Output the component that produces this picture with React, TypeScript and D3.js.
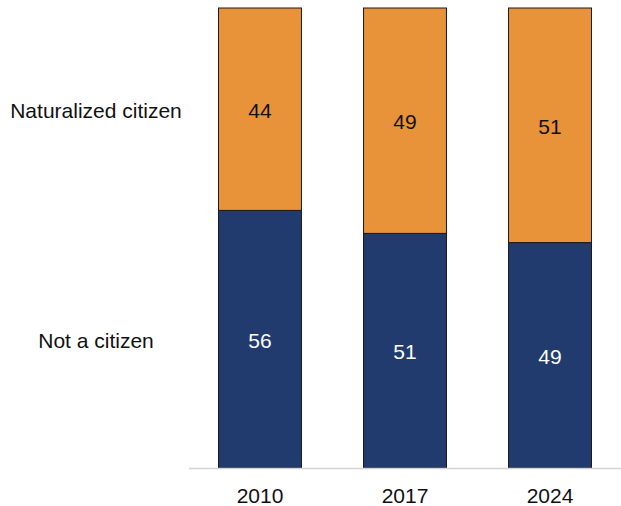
import React from "react";
import * as d3 from "d3";

const years = ["2010", "2017", "2024"];
const notCitizen = [56, 51, 49];
const naturalized = [44, 49, 51];
const seriesNames = ["Not a citizen", "Naturalized citizen"];
const colors = ["#213B6E", "#E8923A"];
const textColors = ["#ffffff", "#111111"];

export default function App() {
  const W = 621, H = 506;
  const top = 8, bottom = 468;
  const x = d3.scaleBand<string>().domain(years).range([189, 621]).paddingInner(0.428).paddingOuter(0.2035);
  const y = d3.scaleLinear().domain([0, 100]).range([bottom, top]);
  const rows = years.map((yr, i) => ({ year: yr, nc: notCitizen[i], nat: naturalized[i] }));
  const stack = d3.stack<any>().keys(["nc", "nat"])(rows);
  const font = "'Liberation Sans', Arial, sans-serif";
  return (
    <svg width={W} height={H} style={{ position: "absolute", left: 0, top: 0 }} fontFamily={font}>
      {stack.map((s, si) =>
        s.map((d, i) => {
          const x0 = x(years[i])!;
          const y0 = y(d[1]);
          const y1 = y(d[0]);
          return (
            <g key={`${si}-${i}`}>
              <rect x={x0} y={y0} width={x.bandwidth()} height={y1 - y0} fill={colors[si]} stroke="#1a1a1a" strokeWidth={1} />
              <text x={x0 + x.bandwidth() / 2} y={(y0 + y1) / 2 + 1} textAnchor="middle" dominantBaseline="central" fontSize={21} fill={textColors[si]}>
                {d[1] - d[0]}
              </text>
            </g>
          );
        })
      )}
      <line x1={189} x2={621} y1={bottom + 0.5} y2={bottom + 0.5} stroke="#d4d4d4" strokeWidth={1.5} />
      {years.map((yr) => (
        <text key={yr} x={x(yr)! + x.bandwidth() / 2} y={495} textAnchor="middle" dominantBaseline="central" fontSize={21} fill="#111">
          {yr}
        </text>
      ))}
      {stack.map((s, si) => {
        const d = s[0];
        return (
          <text key={seriesNames[si]} x={96} y={(y(d[0]) + y(d[1])) / 2 + 1} textAnchor="middle" dominantBaseline="central" fontSize={21} fill="#111">
            {seriesNames[si]}
          </text>
        );
      })}
    </svg>
  );
}
